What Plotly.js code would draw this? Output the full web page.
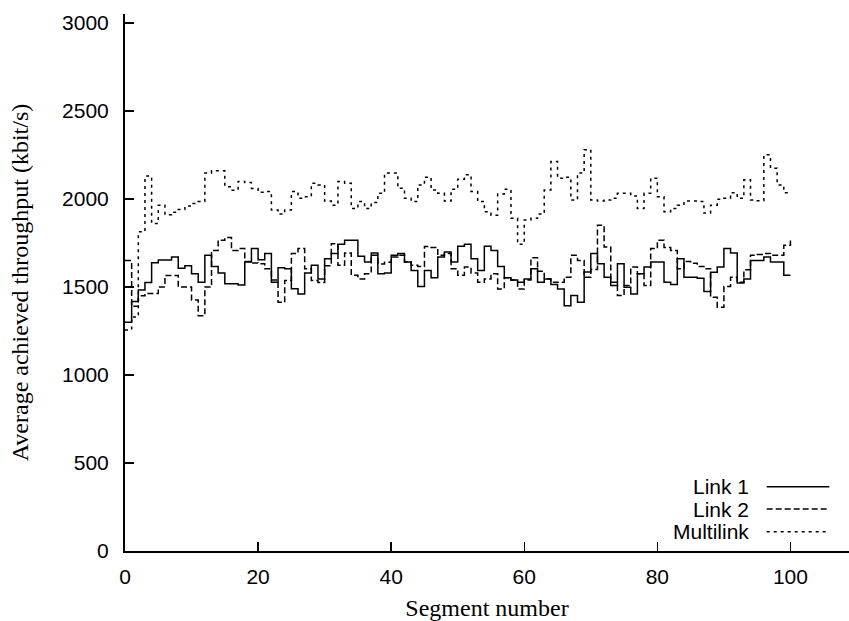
<!DOCTYPE html>
<html><head><meta charset="utf-8">
<script src="https://cdn.plot.ly/plotly-3.0.1.min.js"></script>
<style>html,body{margin:0;padding:0;background:#fff}#chart{width:849px;height:621px}</style>
</head><body><div id="chart"></div>
<script>
const segments = [0,1,2,3,4,5,6,7,8,9,10,11,12,13,14,15,16,17,18,19,20,21,22,23,24,25,26,27,28,29,30,31,32,33,34,35,36,37,38,39,40,41,42,43,44,45,46,47,48,49,50,51,52,53,54,55,56,57,58,59,60,61,62,63,64,65,66,67,68,69,70,71,72,73,74,75,76,77,78,79,80,81,82,83,84,85,86,87,88,89,90,91,92,93,94,95,96,97,98,99,100];

const link1 = [1300,1417,1483,1525,1638,1653,1653,1670,1606,1620,1575,1527,1680,1617,1580,1518,1518,1512,1642,1718,
1655,1690,1527,1610,1604,1490,1460,1579,1623,1546,1661,1690,1743,1766,1766,1674,1642,1693,1575,1580,
1680,1690,1642,1594,1503,1594,1553,1670,1699,1642,1731,1743,1661,1594,1731,1708,1617,1553,1540,1527,
1546,1604,1527,1546,1514,1489,1394,1451,1413,1585,1690,1632,1556,1508,1632,1498,1460,1575,1613,1642,
1642,1527,1514,1661,1556,1556,1550,1475,1584,1613,1718,1693,1522,1546,1651,1651,1670,1642,1642,1566,1566];

const link2 = [1650,1390,1450,1463,1463,1500,1565,1565,1500,1500,1426,1337,1500,1708,1766,1781,1708,1718,1645,1636,
1632,1604,1540,1413,1537,1690,1718,1604,1537,1525,1620,1746,1623,1693,1566,1546,1575,1680,1630,1640,
1670,1680,1642,1623,1617,1730,1725,1680,1690,1604,1566,1613,1579,1527,1546,1575,1489,1553,1540,1489,
1540,1666,1590,1546,1527,1527,1556,1680,1651,1556,1600,1851,1727,1527,1451,1508,1613,1575,1508,1718,
1766,1724,1708,1604,1645,1635,1617,1604,1441,1385,1503,1556,1527,1598,1680,1684,1690,1680,1680,1737,1775];

const multilink = [1256,1330,1814,2130,1861,1965,1910,1925,1940,1960,1975,1985,2147,2160,2160,2070,2050,2100,2093,2060,
2038,2042,1937,1914,1937,2042,2004,2013,2089,2080,1988,1965,2099,2090,1946,1985,1946,1980,2032,2147,
2147,2061,2004,1985,2080,2124,2051,2032,1988,2055,2112,2137,2042,1985,1927,1908,2028,2055,1890,1743,
1880,1890,1914,2051,2213,2118,2124,1994,2147,2280,1994,1988,1994,2004,2032,2032,2017,1946,2032,2118,
2013,1927,1946,1965,1988,1988,1985,1920,1965,1998,2004,2036,2004,2109,1994,1990,2251,2175,2080,2036,2040];

const seriesNames = ['Link 1', 'Link 2', 'Multilink'];
const xTickVals = [0, 20, 40, 60, 80, 100];
const yTickVals = [0, 500, 1000, 1500, 2000, 2500, 3000];
const xTitle = 'Segment number';
const yTitle = 'Average achieved throughput (kbit/s)';

const seriesValues = [link1, link2, multilink];
const dashes = ['solid', '6px,3px', '3px,4px'];

const traces = seriesValues.map((vals, i) => ({
  x: segments, y: vals, type: 'scatter', mode: 'lines', name: seriesNames[i],
  line: {shape: 'hv', color: '#000', width: 1.5, dash: dashes[i]},
  showlegend: false
}));

// hand-built legend: text right-aligned, line sample to its right
const legendRowsY = [0.1197, 0.0782, 0.0359];
const annotations = seriesNames.map((n, i) => ({
  text: n, xref: 'paper', yref: 'paper', x: 0.8642, y: legendRowsY[i],
  xanchor: 'right', yanchor: 'middle', showarrow: false,
  font: {family: 'Liberation Sans, Arial, sans-serif', size: 21, color: '#000'}
}));
const shapes = seriesNames.map((n, i) => ({
  type: 'line', xref: 'paper', yref: 'paper', x0: 0.8863, x1: 0.9728,
  y0: legendRowsY[i], y1: legendRowsY[i],
  line: {color: '#000', width: 1.5, dash: dashes[i]}
}));

const tickFont = {family: 'Liberation Sans, Arial, sans-serif', size: 21, color: '#000'};
const titleFont = {family: 'Liberation Serif, Times New Roman, serif', size: 24, color: '#000'};

const layout = {
  width: 849, height: 621,
  margin: {l: 125, r: 0, t: 14, b: 70, pad: 0},
  paper_bgcolor: '#fff', plot_bgcolor: '#fff',
  showlegend: false,
  xaxis: {
    range: [0, 108.8], tickvals: xTickVals, ticktext: xTickVals.map(String),
    ticks: 'inside', ticklen: 9, tickwidth: 1.5, tickcolor: '#000',
    showline: true, linewidth: 2, linecolor: '#000', showgrid: false, zeroline: false,
    tickfont: tickFont, ticklabelstandoff: 6,
    title: {text: xTitle, font: titleFont, standoff: 16}
  },
  yaxis: {
    range: [0, 3051], tickvals: yTickVals, ticktext: yTickVals.map(String),
    ticks: 'inside', ticklen: 9, tickwidth: 1.5, tickcolor: '#000',
    showline: true, linewidth: 2, linecolor: '#000', showgrid: false, zeroline: false,
    tickfont: tickFont, ticklabelstandoff: 10,
    title: {text: yTitle, font: titleFont, standoff: 27}
  },
  annotations: annotations,
  shapes: shapes
};

Plotly.newPlot('chart', traces, layout, {displayModeBar: false, staticPlot: true});
</script></body></html>
